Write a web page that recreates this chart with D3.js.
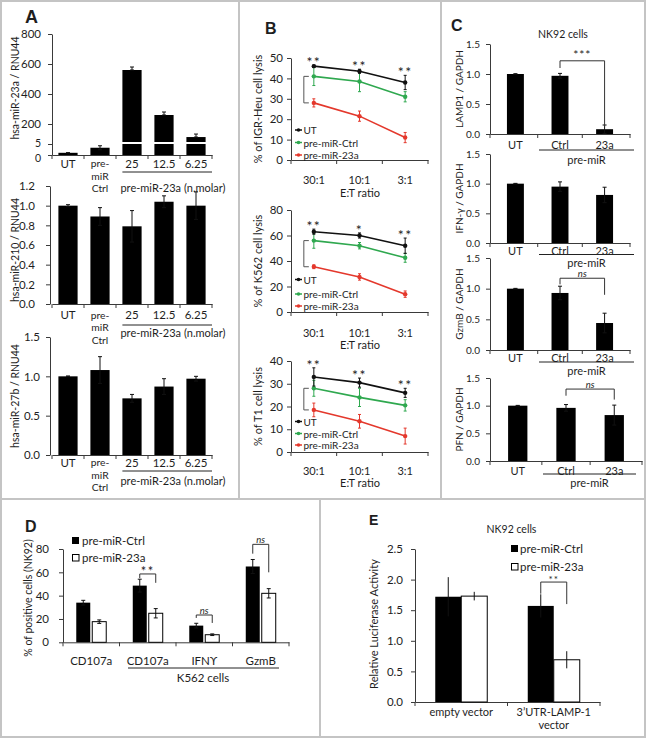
<!DOCTYPE html>
<html><head><meta charset="utf-8">
<script src="https://cdn.jsdelivr.net/npm/d3@7"></script>
<style>
body{margin:0;background:#fff;}
svg{display:block;}
</style></head><body>
<svg id="chart" width="646" height="738"></svg>
<script>
// ---------------- DATA ----------------
// Panel A
const aCategories = ["UT", "pre-miR Ctrl", "25", "12.5", "6.25"];
const aTickLines = [["UT"], ["pre-", "miR", "Ctrl"], ["25"], ["12.5"], ["6.25"]];
const aGroupLabel = "pre-miR-23a (n.molar)";
const miR23aValues = [1.0, 3.3, 560, 260, 113];
const miR23aErrors = [0.05, 0.9, 20, 20, 20];
const miR210Values = [1.0, 0.89, 0.79, 1.04, 1.0];
const miR210Errors = [0.01, 0.09, 0.16, 0.06, 0.14];
const miR27bValues = [1.0, 1.08, 0.72, 0.87, 0.97];
const miR27bErrors = [0.005, 0.17, 0.05, 0.10, 0.03];
const a23aLowTicks = [0, 5];
const a23aHighTicks = [200, 400, 600, 800];
const a210Ticks = [0, 0.2, 0.4, 0.6, 0.8, 1.0, 1.2];
const a27bTicks = [0, 0.5, 1.0, 1.5];

// Panel B
const ratios = ["30:1", "10:1", "3:1"];
const bSeries = ["UT", "pre-miR-Ctrl", "pre-miR-23a"];
const igrUT = [46, 43.5, 38],     igrUTErr = [0.5, 1, 3.5];
const igrCtrl = [41, 38.5, 31],   igrCtrlErr = [4.5, 5, 2.5];
const igr23a = [28, 21.5, 11],    igr23aErr = [2, 2.5, 2.5];
const k562UT = [63, 60, 52],      k562UTErr = [2, 2, 6];
const k562Ctrl = [56, 52, 42.5],  k562CtrlErr = [6, 2.5, 3.5];
const k56223a = [35.5, 27.5, 14], k56223aErr = [1.5, 2.5, 2.5];
const t1UT = [33, 30.5, 26],      t1UTErr = [4, 2, 2];
const t1Ctrl = [28, 24, 20.5],    t1CtrlErr = [3.5, 4, 2.5];
const t123a = [18.5, 13.5, 7],    t123aErr = [3, 3, 3.5];
const igrStars = ["**", "**", "**"];
const k562Stars = ["**", "*", "**"];
const t1Stars = ["**", "**", "**"];
const igrTicks = [0, 10, 20, 30, 40, 50];
const k562Ticks = [0, 20, 40, 60, 80];
const t1Ticks = [0, 10, 20, 30, 40];

// Panel C
const cCategories = ["UT", "Ctrl", "23a"];
const cGroupLabel = "pre-miR";
const lamp1 = [1.0, 0.97, 0.08], lamp1Err = [0.005, 0.04, 0.07];
const ifng = [1.0, 0.95, 0.81],  ifngErr = [0.005, 0.08, 0.13];
const gzmb = [1.0, 0.93, 0.44],  gzmbErr = [0.005, 0.11, 0.16];
const pfn = [1.0, 0.96, 0.83],   pfnErr = [0.005, 0.06, 0.18];
const cTicks = [0, 0.5, 1.0, 1.5];

// Panel D
const dCategories = ["CD107a", "CD107a", "IFNϒ", "GzmB"];
const dSeries = ["pre-miR-Ctrl", "pre-miR-23a"];
const dCtrl = [34, 48.6, 14.3, 65],   dCtrlErr = [2, 5.5, 2, 6];
const d23a = [17.7, 24.9, 6.5, 42],   d23aErr = [1.5, 4, 0.7, 4];
const dTicks = [0, 20, 40, 60, 80];

// Panel E
const eCategories = ["empty vector", "3’UTR-LAMP-1 vector"];
const eTickLines = [["empty vector"], ["3’UTR-LAMP-1", "vector"]];
const eCtrl = [1.72, 1.57], eCtrlErr = [0.32, 0.19];
const e23a = [1.73, 0.69],  e23aErr = [0.07, 0.14];
const eTicks = [0, 0.5, 1.0, 1.5, 2.0, 2.5];

// ---------------- HELPERS ----------------
const svg = d3.select("#chart");
const FONT = "Lato, 'Open Sans', 'DejaVu Sans', sans-serif";
const INK = "#1e1e1e", AXIS = "#3a3a3a";
const GREEN = "#2fa84f", RED = "#e4382c";

function txt(x, y, s, o = {}) {
  const t = svg.append("text").attr("x", x).attr("y", y).text(s)
    .attr("font-family", o.family || FONT).attr("font-size", o.size || 11)
    .attr("fill", o.fill || INK).attr("text-anchor", o.anchor || "middle")
    .attr("dominant-baseline", o.baseline || "central");
  if (o.weight) t.attr("font-weight", o.weight);
  if (o.italic) t.attr("font-style", "italic");
  if (o.rotate) t.attr("transform", `rotate(-90,${x},${y})`);
  if (o.ls) t.attr("letter-spacing", o.ls);
  return t;
}
function line(x1, y1, x2, y2, color = AXIS, w = 1) {
  svg.append("line").attr("x1", x1).attr("y1", y1).attr("x2", x2).attr("y2", y2)
    .attr("stroke", color).attr("stroke-width", w);
}
function yAxis(y, x, vals, fmt, pad, size = 11) {
  const g = svg.append("g").attr("transform", `translate(${x},0)`)
    .call(d3.axisLeft(y).tickValues(vals).tickFormat(fmt).tickSize(4).tickSizeOuter(0).tickPadding(pad));
  g.select(".domain").attr("stroke", AXIS);
  g.selectAll(".tick line").attr("stroke", AXIS);
  g.selectAll(".tick text").attr("fill", INK).attr("font-family", FONT).attr("font-size", size);
  return g;
}
function xAxis(scale, zero, boundaries) {
  const g = svg.append("g").attr("transform", `translate(0,${zero})`)
    .call(d3.axisBottom(scale).tickSize(0).tickSizeOuter(0).tickFormat(() => ""));
  g.select(".domain").attr("stroke", AXIS);
  g.selectAll(".tick").remove();
  boundaries.forEach(b => g.append("line").attr("x1", b).attr("x2", b).attr("y1", 0).attr("y2", 4).attr("stroke", AXIS));
}
function bandBoundaries(x) {
  const r = x.range(), gap = (x.step() - x.bandwidth()) / 2;
  return [r[0], ...x.domain().slice(1).map(d => x(d) - gap), r[1]];
}
function errorBar(g, cx, yTop, yBot, cap = 2, color = "#111") {
  g.append("line").attr("x1", cx).attr("x2", cx).attr("y1", yTop).attr("y2", yBot).attr("stroke", color).attr("stroke-width", 1);
  if (cap) {
    g.append("line").attr("x1", cx - cap).attr("x2", cx + cap).attr("y1", yTop).attr("y2", yTop).attr("stroke", color);
    g.append("line").attr("x1", cx - cap).attr("x2", cx + cap).attr("y1", yBot).attr("y2", yBot).attr("stroke", color);
  }
}
function bars(xf, w, y, vals, errs, o = {}) {
  const g = svg.append("g");
  g.selectAll("rect").data(vals).join("rect")
    .attr("x", (d, i) => xf(i)).attr("width", w)
    .attr("y", d => y(d)).attr("height", d => y(0) - y(d))
    .attr("fill", o.fill || "#000").attr("stroke", o.stroke || "none").attr("stroke-width", 1);
  vals.forEach((v, i) => errorBar(g, xf(i) + w / 2, y(v + errs[i]), y(Math.max(0, v - errs[i])), o.cap === undefined ? 2 : o.cap));
}
function bracket(xL, xR, yTop, yL, yR, color = "#333") {
  svg.append("path").attr("d", `M${xL},${yL}V${yTop}H${xR}V${yR}`)
    .attr("fill", "none").attr("stroke", color).attr("stroke-width", 1);
}

// ---------------- FRAME ----------------
const fr = svg.append("g").attr("stroke", "#c4c4c4").attr("stroke-width", 2).attr("fill", "none");
fr.append("rect").attr("x", 1).attr("y", 1).attr("width", 644).attr("height", 736);
[[239, 1, 239, 499], [441, 1, 441, 499], [1, 499, 645, 499], [320, 499, 320, 737]]
  .forEach(d => fr.append("line").attr("x1", d[0]).attr("y1", d[1]).attr("x2", d[2]).attr("y2", d[3]));

// panel letters
const LET = "'Liberation Sans', Arial, sans-serif";
txt(25, 22.5, "A", { family: LET, size: 18, weight: "bold", anchor: "start", baseline: "auto" });
txt(265, 34, "B", { family: LET, size: 16, weight: "bold", anchor: "start", baseline: "auto" });
txt(451, 31, "C", { family: LET, size: 16, weight: "bold", anchor: "start", baseline: "auto" });
txt(25, 532, "D", { family: LET, size: 16, weight: "bold", anchor: "start", baseline: "auto" });
txt(369, 525, "E", { family: LET, size: 14, weight: "bold", anchor: "start", baseline: "auto" });

// ---------------- PANEL A ----------------
const xA = d3.scaleBand().domain(aCategories).range([52, 212]).paddingInner(0.4).paddingOuter(0.2);
function aLabels(zero, rows, lineY, groupY) {
  xAxis(xA, zero, bandBoundaries(xA));
  aCategories.forEach((c, i) => {
    const multi = aTickLines[i].length > 1;
    aTickLines[i].forEach((s, j) => txt(xA(c) + xA.bandwidth() / 2, rows[j], s, { size: multi ? 10.3 : 11.5 }));
  });
  line(xA(aCategories[2]), lineY, 212, lineY, "#222");
  txt(173, groupY, aGroupLabel, { size: 11 });
}
// A1 (broken axis)
{
  const yl = d3.scaleLinear().domain([0, 5]).range([155, 144]);
  const yu = d3.scaleLinear().domain([0, 800]).range([154, 34]);
  yAxis(yu, 52, a23aHighTicks, d3.format("d"), 7, 11.5);
  const low = yAxis(yl, 52, a23aLowTicks, d3.format("d"), 7, 10.5);
  low.selectAll(".tick text").attr("dy", d => d === 0 ? "0.6em" : "0.2em");
  const g = svg.append("g");
  const w = xA.bandwidth();
  miR23aValues.forEach((v, i) => {
    const x0 = xA(aCategories[i]);
    g.append("rect").attr("x", x0).attr("width", w).attr("y", yl(Math.min(v, 5))).attr("height", yl(0) - yl(Math.min(v, 5))).attr("fill", "#000");
    if (v > 5) {
      g.append("rect").attr("x", x0).attr("width", w).attr("y", yu(v)).attr("height", 142 - yu(v)).attr("fill", "#000");
      errorBar(g, x0 + w / 2, yu(v + miR23aErrors[i]), yu(v), 2);
    } else {
      errorBar(g, x0 + w / 2, yl(v + miR23aErrors[i]), yl(v - miR23aErrors[i]), 2);
    }
  });
  aLabels(155, [163, 175.5, 188], 172, 187);
  txt(15, 88, "hsa-miR-23a / RNU44", { size: 10.5, rotate: true });
}
// A2
{
  const y = d3.scaleLinear().domain([0, 1.2]).range([304, 186]);
  yAxis(y, 50, a210Ticks, d3.format(".1f"), 11, 11.5);
  bars(i => xA(aCategories[i]), xA.bandwidth(), y, miR210Values, miR210Errors);
  aLabels(304, [314.5, 327, 339.5], 325, 332);
  txt(15, 250, "hsa-miR-210 / RNU44", { size: 10.5, rotate: true });
}
// A3
{
  const y = d3.scaleLinear().domain([0, 1.5]).range([455, 337]);
  yAxis(y, 50, a27bTicks, d3.format(".1f"), 6, 11.5);
  bars(i => xA(aCategories[i]), xA.bandwidth(), y, miR27bValues, miR27bErrors);
  aLabels(455, [462, 474.5, 487], 471, 480);
  txt(15, 396, "hsa-miR-27b / RNU44", { size: 10.5, rotate: true });
}

// ---------------- PANEL B ----------------
function panelB(c) {
  const x = d3.scalePoint().domain(ratios).range([291, 428]).padding(0.5);
  const y = d3.scaleLinear().domain([0, c.max]).range([c.zero, c.top]);
  yAxis(y, 291, c.ticks, d3.format("d"), 4, 11.5);
  const st = x.step();
  xAxis(x, c.zero, [291, ...ratios.slice(1).map(r => x(r) - st / 2), 428]);
  ratios.forEach(r => txt(x(r), c.tickY, r, { size: 11 }));
  txt(360, c.titleY, "E:T ratio", { size: 11 });
  txt(257, (c.zero + c.top) / 2, c.ylab, { size: 11, rotate: true });
  const series = [
    { vals: c.ut, errs: c.utErr, color: "#111" },
    { vals: c.ctrl, errs: c.ctrlErr, color: GREEN },
    { vals: c.mir, errs: c.mirErr, color: RED }];
  const g = svg.append("g");
  [2, 1, 0].forEach(si => {
    const s = series[si];
    s.vals.forEach((v, i) => errorBar(g, x(ratios[i]), y(v + s.errs[i]), y(v - s.errs[i]), 1.5, s.color));
    g.append("path").datum(s.vals)
      .attr("d", d3.line().x((d, i) => x(ratios[i])).y(d => y(d)))
      .attr("fill", "none").attr("stroke", s.color).attr("stroke-width", 1.6);
    g.selectAll(null).data(s.vals).join("circle")
      .attr("cx", (d, i) => x(ratios[i])).attr("cy", d => y(d)).attr("r", 2.2).attr("fill", s.color);
  });
  // legend
  series.forEach((s, i) => {
    const ly = c.legendY[i];
    line(295, ly, 302, ly, s.color, 1.5);
    svg.append("circle").attr("cx", 298.5).attr("cy", ly).attr("r", 1.8).attr("fill", s.color);
    txt(303.5, ly, bSeries[i], { size: 10, anchor: "start" });
  });
  // bracket
  const x0 = x(ratios[0]) - 10;
  svg.append("path").attr("d", `M${x0 + 5},${y(c.ctrl[0])}H${x0}V${y(c.mir[0])}H${x0 + 5}`)
    .attr("fill", "none").attr("stroke", "#555").attr("stroke-width", 1);
  // stars
  c.stars.forEach((s, i) => txt(x(ratios[i]), y(c.ut[i] + c.utErr[i]) - 6 + 8, s,
    { size: 14, baseline: "auto", ls: 1.5 }));
}
panelB({ max: 50, zero: 160, top: 58, ticks: igrTicks, ut: igrUT, utErr: igrUTErr, ctrl: igrCtrl, ctrlErr: igrCtrlErr,
  mir: igr23a, mirErr: igr23aErr, stars: igrStars, legendY: [130, 142.5, 155], tickY: 179, titleY: 192.5,
  ylab: "% of IGR-Heu cell lysis" });
panelB({ max: 80, zero: 312, top: 210, ticks: k562Ticks, ut: k562UT, utErr: k562UTErr, ctrl: k562Ctrl, ctrlErr: k562CtrlErr,
  mir: k56223a, mirErr: k56223aErr, stars: k562Stars, legendY: [279.5, 294, 306], tickY: 332, titleY: 344,
  ylab: "% of K562 cell lysis" });
panelB({ max: 40, zero: 452, top: 361, ticks: t1Ticks, ut: t1UT, utErr: t1UTErr, ctrl: t1Ctrl, ctrlErr: t1CtrlErr,
  mir: t123a, mirErr: t123aErr, stars: t1Stars, legendY: [421.5, 433.5, 445], tickY: 470, titleY: 482,
  ylab: "% of T1 cell lysis" });

// ---------------- PANEL C ----------------
txt(563, 33.5, "NK92 cells", { size: 10.5 });
function panelC(c) {
  const x = d3.scaleBand().domain(cCategories).range(c.range).paddingInner(c.pi).paddingOuter(c.po);
  const y = d3.scaleLinear().domain([0, 1.5]).range([c.zero, c.top]);
  yAxis(y, 490, cTicks, d3.format(".1f"), 6, 10);
  xAxis(x, c.zero, bandBoundaries(x));
  bars(i => x(cCategories[i]), x.bandwidth(), y, c.vals, c.errs);
  const cx = i => x(cCategories[i]) + x.bandwidth() / 2;
  cCategories.forEach((k, i) => txt(cx(i), c.labelY, k, { size: 11 }));
  line(c.lineX[0], c.lineY, c.lineX[1], c.lineY, "#222");
  txt((c.lineX[0] + c.lineX[1]) / 2, c.groupY, cGroupLabel, { size: 11 });
  txt(459, (c.zero + c.top) / 2, c.ylab, { size: 10, rotate: true });
  if (c.br) {
    bracket(cx(1), cx(2), y(c.br.top), y(c.br.left), y(c.br.right));
    if (c.br.label === "ns") txt((cx(1) + cx(2)) / 2, y(c.br.top) - 4.5, "ns", { size: 9.5, italic: true });
    else txt((cx(1) + cx(2)) / 2, y(c.br.top) - 6, c.br.label, { size: 12, ls: 1 });
  }
}
panelC({ range: [490, 630], pi: 0.62, po: 0.38, zero: 134, top: 44, vals: lamp1, errs: lamp1Err,
  labelY: 144, lineY: 150, lineX: [539, 634], groupY: 159.5, ylab: "LAMP1 / GAPDH",
  br: { top: 1.22, left: 1.1, right: 0.12, label: "***" } });
panelC({ range: [490, 630], pi: 0.62, po: 0.38, zero: 243, top: 154, vals: ifng, errs: ifngErr,
  labelY: 250.5, lineY: 254.5, lineX: [539, 634], groupY: 262, ylab: "IFN-γ / GAPDH" });
panelC({ range: [490, 630], pi: 0.62, po: 0.38, zero: 350, top: 258, vals: gzmb, errs: gzmbErr,
  labelY: 357.5, lineY: 362, lineX: [539, 634], groupY: 370, ylab: "GzmB / GAPDH",
  br: { top: 1.17, left: 1.07, right: 0.9, label: "ns" } });
panelC({ range: [490, 642], pi: 0.6, po: 0.375, zero: 461, top: 378, vals: pfn, errs: pfnErr,
  labelY: 470, lineY: 474, lineX: [543, 636], groupY: 482, ylab: "PFN / GAPDH",
  br: { top: 1.3, left: 1.18, right: 1.11, label: "ns" } });

// ---------------- PANEL D ----------------
{
  const idx = d3.range(dCategories.length);
  const x0 = d3.scaleBand().domain(idx).range([63, 289]).padding(0);
  const x1 = d3.scaleBand().domain(dSeries).range([0, x0.step()]).paddingInner(0.125).paddingOuter(0.83);
  const y = d3.scaleLinear().domain([0, 80]).range([642.3, 549]);
  yAxis(y, 63, dTicks, d3.format("d"), 10, 11.5);
  xAxis(x0, 642.3, bandBoundaries(x0));
  const w = x1.bandwidth();
  bars(i => x0(i) + x1(dSeries[0]), w, y, dCtrl, dCtrlErr, { fill: "#000" });
  bars(i => x0(i) + x1(dSeries[1]), w, y, d23a, d23aErr, { fill: "#fff", stroke: "#000" });
  idx.forEach(i => txt(x0(i) + x0.step() / 2, 660.5, dCategories[i], { size: 11.5 }));
  line(128, 668, 279, 668, "#222");
  txt(203, 677.5, "K562 cells", { size: 11.5 });
  txt(28, 598, "% of positive cells (NK92)", { size: 10.5, rotate: true });
  // legend
  svg.append("rect").attr("x", 72).attr("y", 537).attr("width", 7).attr("height", 7).attr("fill", "#000");
  txt(82, 540.5, dSeries[0], { size: 11.5, anchor: "start" });
  svg.append("rect").attr("x", 72.5).attr("y", 554.5).attr("width", 6.5).attr("height", 6.5).attr("fill", "#fff").attr("stroke", "#000");
  txt(82, 557.5, dSeries[1], { size: 11.5, anchor: "start" });
  // brackets
  const cA = i => x0(i) + x1(dSeries[0]) + w / 2, cB = i => x0(i) + x1(dSeries[1]) + w / 2;
  bracket(cA(1), cB(1), y(58.6), y(55), y(51));
  txt((cA(1) + cB(1)) / 2, y(58.6) - 5 + 7, "**", { size: 13, baseline: "auto", ls: 1.5 });
  bracket(cA(2), cB(2), y(23.4), y(20.9), y(16.6));
  txt((cA(2) + cB(2)) / 2, y(23.4) - 5, "ns", { size: 9.5, italic: true });
  bracket(cA(3), cB(3), y(84), y(76), y(60));
  txt((cA(3) + cB(3)) / 2, y(84) - 5, "ns", { size: 9.5, italic: true });
}

// ---------------- PANEL E ----------------
{
  txt(511.5, 529, "NK92 cells", { size: 10.5 });
  const x0 = d3.scaleBand().domain(eCategories).range([415, 600]).padding(0);
  const x1 = d3.scaleBand().domain(dSeries).range([0, x0.step()]).paddingInner(0).paddingOuter(0.779);
  const y = d3.scaleLinear().domain([0, 2.5]).range([702, 549]);
  yAxis(y, 415, eTicks, d3.format(".1f"), 8, 11.5);
  xAxis(x0, 702, bandBoundaries(x0));
  const w = x1.bandwidth();
  bars(i => x0(eCategories[i]) + x1(dSeries[0]), w, y, eCtrl, eCtrlErr, { fill: "#000", cap: 0 });
  bars(i => x0(eCategories[i]) + x1(dSeries[1]), w, y, e23a, e23aErr, { fill: "#fff", stroke: "#000", cap: 0 });
  eCategories.forEach((k, i) => eTickLines[i].forEach((s, j) =>
    txt(x0(k) + x0.step() / 2, 711 + j * 13, s, { size: 11 })));
  txt(373, 624, "Relative Luciferase Activity", { size: 11, rotate: true });
  svg.append("rect").attr("x", 511).attr("y", 545).attr("width", 7).attr("height", 7).attr("fill", "#000");
  txt(520, 548.5, dSeries[0], { size: 11.5, anchor: "start" });
  svg.append("rect").attr("x", 511.5).attr("y", 563.5).attr("width", 6.5).attr("height", 6.5).attr("fill", "#fff").attr("stroke", "#000");
  txt(520, 566.5, dSeries[1], { size: 11.5, anchor: "start" });
  const cA = x0(eCategories[1]) + x1(dSeries[0]) + w / 2, cB = x0(eCategories[1]) + x1(dSeries[1]) + w / 2;
  bracket(cA, cB, y(1.96), y(1.77), y(1.6));
  txt((cA + cB) / 2, y(1.96) - 5 + 6, "**", { size: 10, baseline: "auto", ls: 1 });
}
</script>
</body></html>
